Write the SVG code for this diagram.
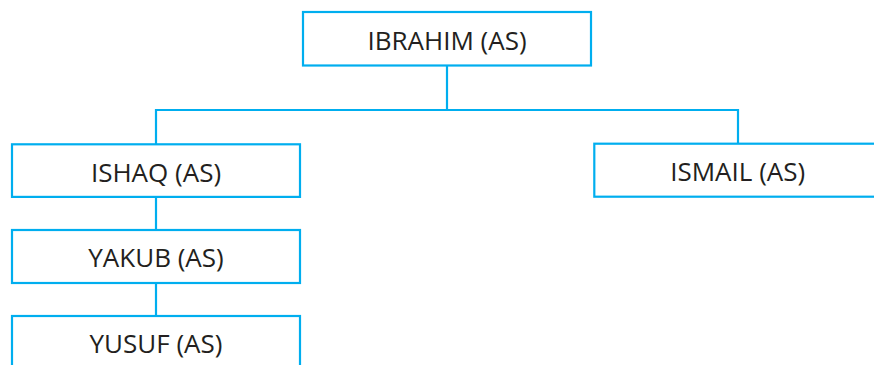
<svg xmlns="http://www.w3.org/2000/svg" width="874" height="365" viewBox="0 0 874 365">
<style>
.box{fill:#fff;stroke:#00aeef;stroke-width:2.2}
.lbl{font-family:"Open Sans","Noto Sans",sans-serif;font-size:26px;fill:#231f20;text-anchor:middle}
.conn{fill:none;stroke:#00aeef;stroke-width:2.2}
</style>
<rect width="874" height="365" fill="#fff"/>
<g id="connectors" class="conn">
<path d="M447 66 V110"/>
<path d="M156 110 H738"/>
<path d="M156 109 V144"/>
<path d="M738 109 V144"/>
<path d="M156 197 V230"/>
<path d="M156 283 V316"/>
</g>
<g id="ibrahim"><rect class="box" x="303" y="12" width="288" height="53.5"/><text class="lbl" x="447" y="50">IBRAHIM (AS)</text></g>
<g id="ishaq"><rect class="box" x="12" y="144.3" width="288" height="52.6"/><text class="lbl" x="156" y="181.7">ISHAQ (AS)</text></g>
<g id="yakub"><rect class="box" x="12" y="230" width="288" height="53"/><text class="lbl" x="156" y="267.3">YAKUB (AS)</text></g>
<g id="yusuf"><rect class="box" x="12" y="316" width="288" height="53"/><text class="lbl" x="156" y="352.7">YUSUF (AS)</text></g>
<g id="ismail"><rect class="box" x="594.3" y="143.7" width="288" height="53"/><text class="lbl" x="737.7" y="181">ISMAIL (AS)</text></g>
</svg>
